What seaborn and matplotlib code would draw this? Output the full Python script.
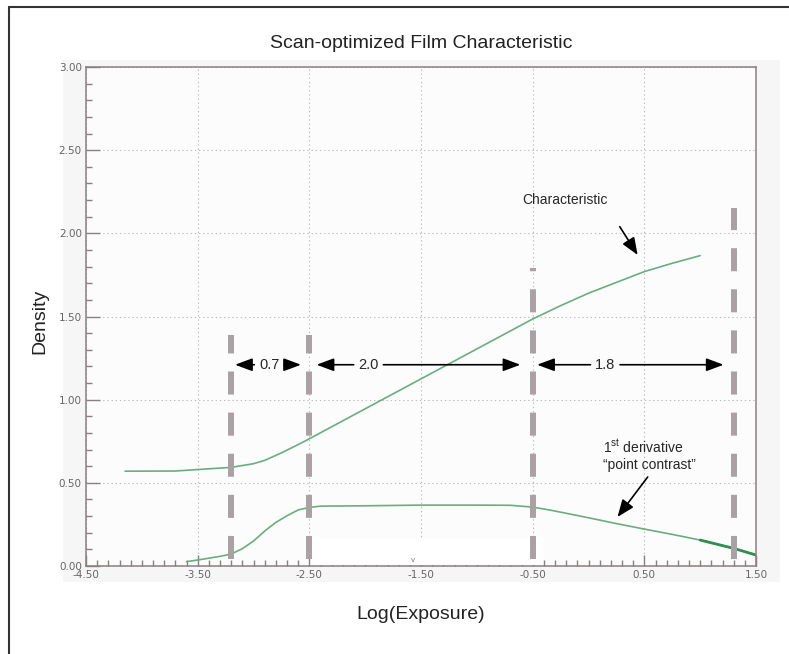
"""
Curva caracteristica de pelicula optimizada para escaneo
"""

import seaborn as sns
import matplotlib.pyplot as plt
from matplotlib.patches import Rectangle
from matplotlib.lines import Line2D
from matplotlib.ticker import MultipleLocator, FormatStrFormatter

# curva caracteristica (densidad vs log exposicion)
char_x = [-4.15, -3.7, -3.5, -3.2, -3.0, -2.9, -2.75, -2.6, -2.5, -2.25, -2.0,
          -1.5, -1.0, -0.5, -0.25, 0.0, 0.25, 0.5, 0.75, 1.0]
char_y = [0.57, 0.571, 0.58, 0.593, 0.615, 0.635, 0.68, 0.73, 0.765, 0.855, 0.945,
          1.125, 1.305, 1.485, 1.565, 1.64, 1.705, 1.77, 1.82, 1.866]

# primera derivada ("point contrast")
deriv_x = [-3.6, -3.5, -3.3, -3.2, -3.1, -3.0, -2.9, -2.8, -2.7, -2.6, -2.5, -2.4,
           -2.0, -1.5, -1.0, -0.7, -0.5, -0.35, -0.2, 0.0, 0.25, 0.5, 0.75, 1.0,
           1.3, 1.5]
deriv_y = [0.026, 0.036, 0.058, 0.072, 0.104, 0.15, 0.21, 0.262, 0.302, 0.337,
           0.352, 0.36, 0.362, 0.366, 0.366, 0.365, 0.354, 0.337, 0.317, 0.29,
           0.255, 0.222, 0.19, 0.156, 0.106, 0.066]

# marcas verticales discontinuas
mark_x = [-3.2, -2.5, -0.5, 1.3]
mark_top = [1.39, 1.39, 1.79, 2.15]
mark_bottom = 0.04

# rangos con flechas
span_labels = ['0.7', '2.0', '1.8']
span_text_x = [-2.86, -1.97, 0.15]
span_left = [-3.165, -2.435, -0.46]
span_right = [-2.575, -0.61, 1.21]
span_y = 1.21

x_ticks = [-4.5, -3.5, -2.5, -1.5, -0.5, 0.5, 1.5]
y_ticks = [0.0, 0.5, 1.0, 1.5, 2.0, 2.5, 3.0]

sns.set_theme(style='white')
plt.rcParams['font.family'] = ['Liberation Sans', 'DejaVu Sans']
plt.rcParams['axes.unicode_minus'] = False
plt.rcParams['lines.scale_dashes'] = False
plt.rcParams['mathtext.fontset'] = 'custom'
plt.rcParams['mathtext.rm'] = 'Liberation Sans'

fig = plt.figure(figsize=(7.89, 6.54), dpi=100)
fig.patch.set_facecolor('white')
ax = fig.add_axes([86 / 789, 88 / 654, 670 / 789, 499 / 654])
ax.set_facecolor('#fcfcfc')

# panel gris claro y marco exterior
fig.add_artist(Rectangle((63 / 789, 72 / 654), 717 / 789, 522 / 654,
                         transform=fig.transFigure, fc='#f6f6f6', ec='none', zorder=-1))
fig.add_artist(Line2D([9 / 789, 9 / 789], [0, 1 - 7 / 654], transform=fig.transFigure,
                      color='#333333', lw=1.5))
fig.add_artist(Line2D([9 / 789, 1], [1 - 7 / 654, 1 - 7 / 654], transform=fig.transFigure,
                      color='#333333', lw=1.5))

ax.set_xlim(-4.5, 1.5)
ax.set_ylim(0, 3)
ax.set_xticks(x_ticks)
ax.set_yticks(y_ticks)
ax.xaxis.set_minor_locator(MultipleLocator(0.1))
ax.yaxis.set_minor_locator(MultipleLocator(0.1))
ax.xaxis.set_major_formatter(FormatStrFormatter('%.2f'))
ax.yaxis.set_major_formatter(FormatStrFormatter('%.2f'))

ax.grid(True, which='major', ls=(0, (1, 2)), color='#bdbdbd', lw=0.8)
ax.set_axisbelow(True)
# zona blanca que tapa la rejilla cerca del eje
ax.add_patch(Rectangle((-2.467, 0.004), 2.057, 0.164, fc='white', ec='none', zorder=1))

for s in ax.spines.values():
    s.set_color('#8a8080')
    s.set_linewidth(1.1)

ax.tick_params(axis='x', which='major', direction='in', length=8, width=1,
               color='#8a8080', labelsize=7.5, labelcolor='#666666', pad=3)
ax.tick_params(axis='y', which='major', direction='in', length=10, width=1,
               color='#8a8080', labelsize=7.5, labelcolor='#666666', pad=3)
ax.tick_params(axis='both', which='minor', direction='in', length=4, width=1,
               color='#8a8080')
ax.tick_params(bottom=True, left=True, which='both')
for lbl in ax.get_xticklabels() + ax.get_yticklabels():
    lbl.set_fontfamily('DejaVu Sans')

# curvas
sns.lineplot(x=char_x, y=char_y, color='#6aae80', lw=1.2, ax=ax, sort=False, zorder=2)
sns.lineplot(x=deriv_x, y=deriv_y, color='#6aae80', lw=1.2, ax=ax, sort=False, zorder=2)
tail_x = [x for x in deriv_x if x >= 1.0]
tail_y = [y for x, y in zip(deriv_x, deriv_y) if x >= 1.0]
sns.lineplot(x=tail_x, y=tail_y, color='#2f8f4f', lw=2.0, ax=ax, sort=False, zorder=2)

# marcas verticales
ax.vlines(mark_x, mark_bottom, mark_top, colors='#aaa2a2', lw=4.3,
          linestyles=[(0, (16.6, 13.0))], capstyle='butt', zorder=3)

# flechas de rango
arrow_kw = dict(arrowstyle='-|>,head_length=0.75,head_width=0.28', color='black',
                lw=1.2, shrinkA=1, shrinkB=0, mutation_scale=14)
for label, tx, xl, xr in zip(span_labels, span_text_x, span_left, span_right):
    ax.annotate(label, xy=(xr, span_y), xytext=(tx, span_y), ha='center', va='center',
                fontsize=10.5, arrowprops=arrow_kw, zorder=4)
    ax.annotate(label, xy=(xl, span_y), xytext=(tx, span_y), ha='center', va='center',
                fontsize=10.5, color='none', arrowprops=arrow_kw, zorder=4)

# anotaciones
note_kw = dict(arrowstyle='-|>,head_length=0.8,head_width=0.32', color='black',
               lw=1.2, shrinkA=0, shrinkB=0, mutation_scale=13)
ax.text(-0.21, 2.20, 'Characteristic', fontsize=10, ha='center', va='center')
ax.annotate('', xy=(0.44, 1.87), xytext=(0.28, 2.04), arrowprops=note_kw)
ax.text(0.13, 0.681, r'1$^{\rm st}$ derivative', fontsize=10, ha='left', va='baseline')
ax.text(0.13, 0.581, '\u201cpoint contrast\u201d', fontsize=10, ha='left', va='baseline')
ax.annotate('', xy=(0.26, 0.295), xytext=(0.53, 0.535), arrowprops=note_kw)
ax.text(-1.57, 0.035, 'v', fontsize=5, color='#777777', ha='center', va='center',
        fontfamily='DejaVu Sans')

# titulos
ax.set_title('Scan-optimized Film Characteristic', fontsize=14, color='#222222',
             y=1.048, va='center', pad=0)
ax.set_xlabel('Log(Exposure)', fontsize=14, color='#222222')
ax.xaxis.set_label_coords(0.5, -0.097)
ax.xaxis.label.set_va('center')
ax.set_ylabel('Density', fontsize=14, color='#222222')
ax.yaxis.set_label_coords(-0.069, 0.49)
ax.yaxis.label.set_va('center')

fig.savefig('out.png', dpi=100)
